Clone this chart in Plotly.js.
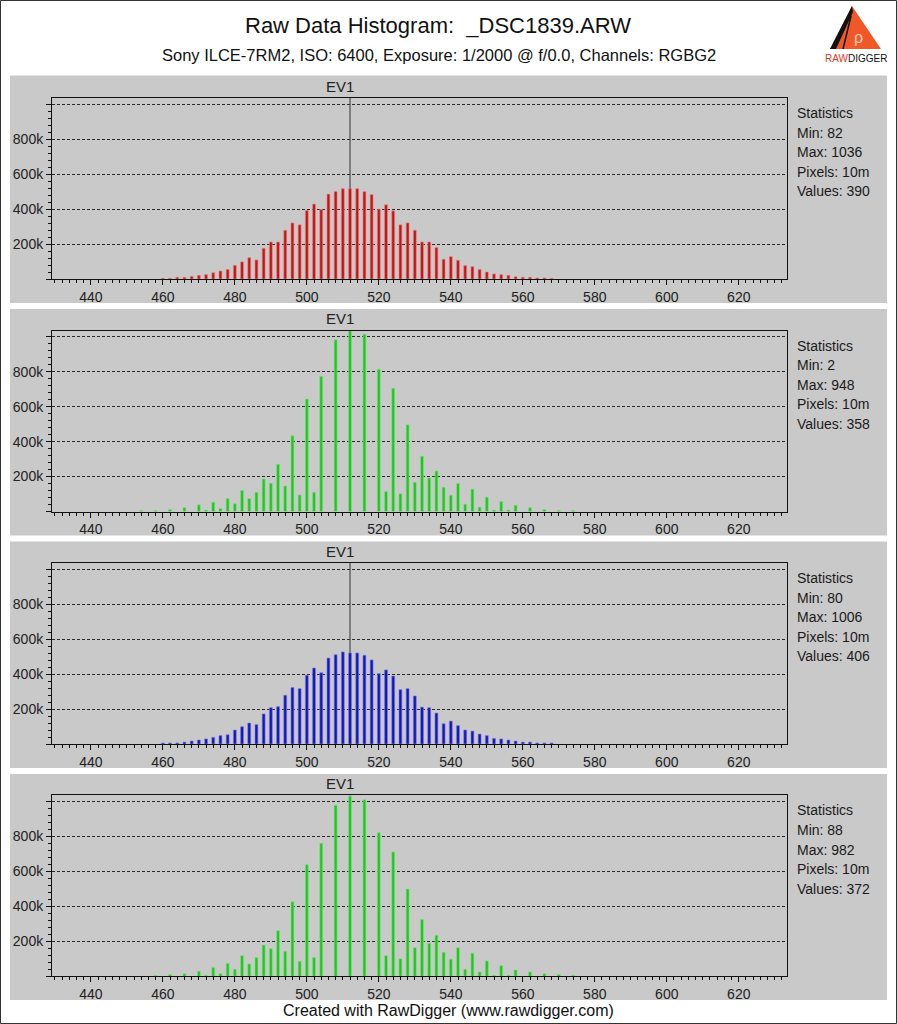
<!DOCTYPE html>
<html>
<head>
<meta charset="utf-8">
<script src="https://cdn.plot.ly/plotly-3.0.1.min.js"></script>
<style>
  html, body { margin: 0; padding: 0; background: #fff; }
  #plot { width: 897px; height: 1024px; }
</style>
</head>
<body>
<div id="plot"></div>
<script>
/* ===========================================
   Data (counts in thousands)
   =========================================== */

const binsRed = [460, 462, 464, 466, 468, 470, 472, 474, 476, 478, 480, 482, 484, 486, 488, 490, 492, 494, 496, 498,
  500, 502, 504, 506, 508, 510, 512, 514, 516, 518, 520, 522, 524, 526, 528, 530, 532, 534, 536, 538,
  540, 542, 544, 546, 548, 550, 552, 554, 556, 558, 560, 562, 564, 566, 568];
const valuesRed = [4, 4, 10, 10, 15, 21, 25, 36, 46, 55, 78, 98, 122, 109, 176, 212, 212, 279, 321, 310,
  392, 429, 398, 486, 501, 517, 517, 517, 500, 483, 400, 425, 390, 310, 321, 279, 212, 212, 180, 113,
  128, 107, 77, 71, 55, 40, 29, 25, 21, 13, 10, 10, 6, 6, 4];

const binsGreen = [454, 458, 462, 466, 470, 472, 474, 476, 478, 480, 482, 484, 486, 488, 490, 492, 494, 496, 498,
  500, 502, 504, 508, 512, 516, 520, 522, 524, 526, 528, 530, 532, 534, 536, 538,
  540, 542, 544, 546, 548, 550, 552, 554, 556, 558, 562, 566, 570, 574];
const valuesGreen = [6, 6, 11, 23, 38, 8, 53, 17, 74, 44, 120, 74, 110, 186, 162, 270, 146, 433, 95,
  644, 110, 774, 983, 1034, 1015, 814, 114, 705, 101, 496, 167, 316, 192, 232, 139,
  93, 160, 42, 128, 25, 82, 8, 57, 8, 36, 21, 11, 6, 6];

const binsBlue = [460, 462, 464, 466, 468, 470, 472, 474, 476, 478, 480, 482, 484, 486, 488, 490, 492, 494, 496, 498,
  500, 502, 504, 506, 508, 510, 512, 514, 516, 518, 520, 522, 524, 526, 528, 530, 532, 534, 536, 538,
  540, 542, 544, 546, 548, 550, 552, 554, 556, 558, 560, 562, 564, 566, 568];
const valuesBlue = [6, 6, 6, 11, 17, 23, 29, 38, 48, 53, 80, 99, 120, 111, 172, 208, 214, 279, 323, 317,
  393, 435, 408, 492, 511, 527, 521, 521, 508, 481, 403, 424, 389, 311, 317, 275, 211, 208, 177, 116,
  131, 105, 80, 74, 57, 48, 32, 29, 23, 17, 11, 11, 6, 6, 6];

const binsGreen2 = [458, 462, 466, 470, 472, 474, 476, 478, 480, 482, 484, 486, 488, 490, 492, 494, 496, 498,
  500, 502, 504, 508, 512, 516, 520, 522, 524, 526, 528, 530, 532, 534, 536, 538,
  540, 542, 544, 546, 548, 550, 552, 554, 556, 558, 562, 566, 570, 574];
const valuesGreen2 = [4, 10, 15, 29, 6, 50, 15, 73, 40, 118, 71, 107, 179, 158, 261, 143, 426, 86,
  639, 107, 761, 979, 1030, 1010, 821, 118, 712, 101, 500, 164, 325, 189, 235, 138,
  98, 164, 40, 132, 25, 88, 6, 61, 6, 36, 25, 15, 11, 6];

const statsRed = ['Statistics', 'Min: 82', 'Max: 1036', 'Pixels: 10m', 'Values: 390'];
const statsGreen = ['Statistics', 'Min: 2', 'Max: 948', 'Pixels: 10m', 'Values: 358'];
const statsBlue = ['Statistics', 'Min: 80', 'Max: 1006', 'Pixels: 10m', 'Values: 406'];
const statsGreen2 = ['Statistics', 'Min: 88', 'Max: 982', 'Pixels: 10m', 'Values: 372'];

const yTickVals = [0, 200, 400, 600, 800, 1000];
const yTickText = ['', '200k', '400k', '600k', '800k', ''];
const ev1Level = 512;

/* ===========================================
   Layout helpers (pixel -> paper)
   =========================================== */

const W = 897, H = 1024;
const px = x => x / W;
const py = y => 1 - y / H;
const FONT = '"Liberation Sans", Arial, sans-serif';

const channels = [
  { bins: binsRed, values: valuesRed, color: '#cc1111', edge: '#e08888', stats: statsRed },
  { bins: binsGreen, values: valuesGreen, color: '#1ec81e', edge: '#7ee07e', stats: statsGreen },
  { bins: binsBlue, values: valuesBlue, color: '#1414c4', edge: '#7a7ad8', stats: statsBlue },
  { bins: binsGreen2, values: valuesGreen2, color: '#1ec81e', edge: '#7ee07e', stats: statsGreen2 }
];

const plotTops = [98, 330.5, 563, 795.3];
const plotHeight = 181;
const panelBoxes = [[75.5, 303], [309, 535.5], [541.5, 768], [774, 1000]];
const plotLeft = 52, plotRight = 787;

const traces = [];
const shapes = [];
const annotations = [];
const layout = {
  width: W,
  height: H,
  margin: { l: 0, r: 0, t: 0, b: 0 },
  paper_bgcolor: '#ffffff',
  plot_bgcolor: '#c9c9c9',
  showlegend: false,
  barmode: 'overlay',
  font: { family: FONT, size: 14, color: '#222' }
};

// 외곽 테두리
shapes.push({
  type: 'rect', xref: 'paper', yref: 'paper', layer: 'above',
  x0: px(0.5), x1: px(896.5), y0: py(0.5), y1: py(1023.5),
  line: { color: '#333', width: 1 }
});

channels.forEach((ch, i) => {
  const n = i + 1;
  const xa = n === 1 ? 'x' : 'x' + n;
  const ya = n === 1 ? 'y' : 'y' + n;
  const top = plotTops[i];
  const bottom = top + plotHeight;

  // panel background
  shapes.push({
    type: 'rect', xref: 'paper', yref: 'paper', layer: 'below',
    x0: px(10), x1: px(887), y0: py(panelBoxes[i][1]), y1: py(panelBoxes[i][0]),
    fillcolor: '#c9c9c9', line: { width: 0 }
  });

  traces.push({
    type: 'bar',
    x: ch.bins,
    y: ch.values,
    xaxis: xa,
    yaxis: ya,
    width: 0.8,
    marker: { color: ch.color, line: { color: ch.edge, width: 0.6 } },
    hoverinfo: 'x+y'
  });

  // EV1 marker
  shapes.push({
    type: 'line', xref: xa, yref: ya, layer: 'between',
    x0: ev1Level, x1: ev1Level, y0: 0, y1: 1036,
    line: { color: '#333', width: 1 }
  });

  annotations.push({
    xref: 'paper', yref: 'paper', x: px(339.5), y: py(top - 12),
    text: 'EV1', showarrow: false, xanchor: 'center', yanchor: 'middle',
    font: { family: FONT, size: 15, color: '#222' }
  });

  ch.stats.forEach((line, k) => {
    annotations.push({
      xref: 'paper', yref: 'paper', x: px(795), y: py(top + 15 + k * 19.6),
      text: line, showarrow: false, xanchor: 'left', yanchor: 'middle',
      font: { family: FONT, size: 14, color: '#1a1a1a' }
    });
  });

  layout['xaxis' + (n === 1 ? '' : n)] = {
    domain: [px(plotLeft), px(plotRight)],
    anchor: ya,
    range: [429.2, 633.4],
    tick0: 440, dtick: 20,
    ticks: 'outside', ticklen: 5, tickcolor: '#111',
    minor: { dtick: 2, tick0: 440, ticks: 'outside', ticklen: 3, tickcolor: '#111', showgrid: false },
    showgrid: false, zeroline: false,
    showline: true, mirror: true, linecolor: '#111', linewidth: 1,
    tickfont: { family: FONT, size: 14, color: '#222' },
    fixedrange: true
  };
  layout['yaxis' + (n === 1 ? '' : n)] = {
    domain: [py(bottom), py(top)],
    anchor: xa,
    range: [0, 1036],
    tickmode: 'array', tickvals: yTickVals, ticktext: yTickText,
    ticks: 'outside', ticklen: 5, tickcolor: '#111',
    minor: { dtick: 40, tick0: 0, ticks: 'outside', ticklen: 3, tickcolor: '#111', showgrid: false },
    showgrid: true, gridcolor: '#2a2a2a', griddash: '3px,2px', gridwidth: 1,
    zeroline: false,
    showline: true, mirror: true, linecolor: '#111', linewidth: 1,
    tickfont: { family: FONT, size: 14, color: '#222' },
    fixedrange: true
  };
});

// 헤더
annotations.push({
  xref: 'paper', yref: 'paper', x: px(438), y: py(25),
  text: 'Raw Data Histogram:  _DSC1839.ARW', showarrow: false,
  xanchor: 'center', yanchor: 'middle',
  font: { family: FONT, size: 22, color: '#111' }
});
annotations.push({
  xref: 'paper', yref: 'paper', x: px(439), y: py(55),
  text: 'Sony ILCE-7RM2, ISO: 6400, Exposure: 1/2000 @ f/0.0, Channels: RGBG2', showarrow: false,
  xanchor: 'center', yanchor: 'middle',
  font: { family: FONT, size: 16.5, color: '#111' }
});
annotations.push({
  xref: 'paper', yref: 'paper', x: px(448), y: py(1010),
  text: 'Created with RawDigger (www.rawdigger.com)', showarrow: false,
  xanchor: 'center', yanchor: 'middle',
  font: { family: FONT, size: 16, color: '#111' }
});

// 로고
shapes.push({
  type: 'path', xref: 'paper', yref: 'paper', layer: 'above',
  path: `M ${px(830)} ${py(49)} L ${px(852)} ${py(6)} L ${px(881)} ${py(49)} Z`,
  fillcolor: '#f0582a', line: { width: 0 }
});
shapes.push({
  type: 'path', xref: 'paper', yref: 'paper', layer: 'above',
  path: `M ${px(830)} ${py(49)} L ${px(852)} ${py(6)} L ${px(853)} ${py(12)} L ${px(836)} ${py(49)} Z`,
  fillcolor: '#111', line: { width: 0 }
});
shapes.push({
  type: 'line', xref: 'paper', yref: 'paper', layer: 'above',
  x0: px(851), y0: py(16), x1: px(843), y1: py(49),
  line: { color: '#111', width: 1.5 }
});
annotations.push({
  xref: 'paper', yref: 'paper', x: px(858), y: py(37),
  text: 'ρ', showarrow: false, xanchor: 'center', yanchor: 'middle',
  font: { family: FONT, size: 16, color: '#f8d0b8' }
});
annotations.push({
  xref: 'paper', yref: 'paper', x: px(856), y: py(58),
  text: '<span style="color:#e03a1e">RAW</span>DIGGER', showarrow: false,
  xanchor: 'center', yanchor: 'middle',
  font: { family: '"Liberation Sans Narrow", "Liberation Sans", Arial', size: 10, color: '#111' }
});

layout.shapes = shapes;
layout.annotations = annotations;

Plotly.newPlot('plot', traces, layout, { displayModeBar: false, staticPlot: true });
</script>
</body>
</html>
